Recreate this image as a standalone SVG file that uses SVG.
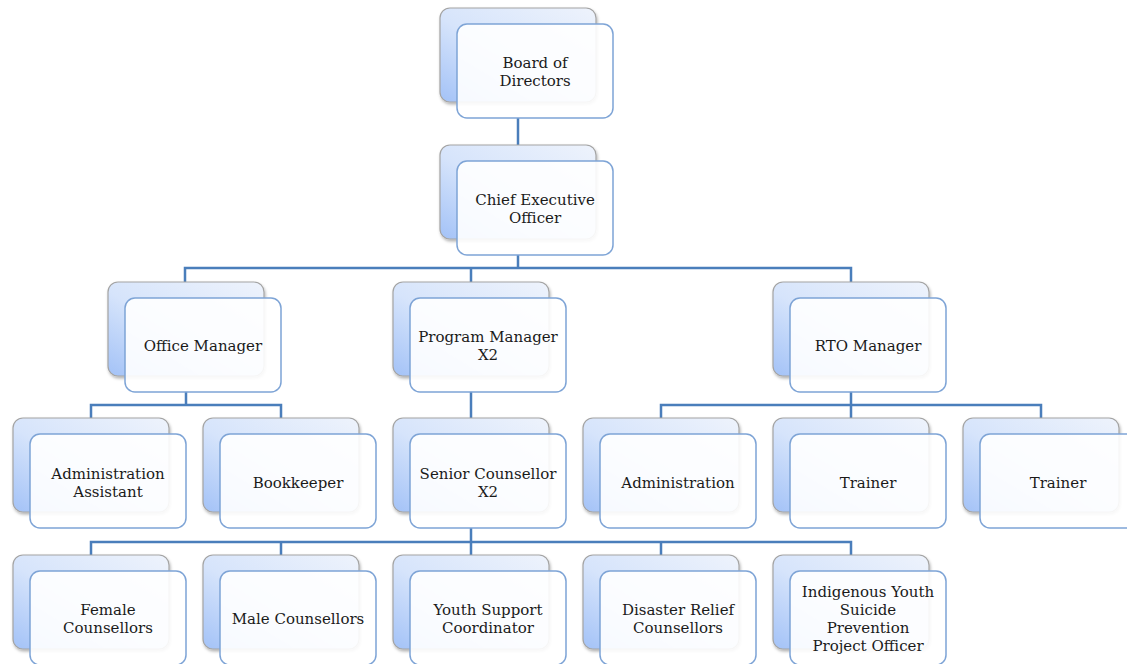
<svg xmlns="http://www.w3.org/2000/svg" width="1127" height="664" viewBox="0 0 1127 664">
<defs>
<linearGradient id="bg" x1="1" y1="0" x2="0" y2="1">
<stop offset="0" stop-color="#eef3fc"/>
<stop offset="0.55" stop-color="#d6e4fb"/>
<stop offset="1" stop-color="#a3c2f7"/>
</linearGradient>
<filter id="sh" x="-10%" y="-10%" width="125%" height="125%">
<feDropShadow dx="1" dy="2" stdDeviation="1.5" flood-color="#000" flood-opacity="0.3"/>
</filter>
</defs>
<style>
.back{fill:url(#bg);stroke:#a4a4a4;stroke-width:1.2;filter:url(#sh)}
.front{fill:#ffffff;fill-opacity:0.9;stroke:#7ea4d6;stroke-width:1.5}
.t{font-family:"DejaVu Serif","Liberation Serif",serif;font-size:15px;fill:#1a1a1a;text-anchor:middle}
.c{fill:none;stroke:#4a7ebb;stroke-width:2.5}
</style>
<rect width="1127" height="664" fill="#ffffff"/>
<g id="connectors">
<path class="c" d="M518 118V161"/>
<path class="c" d="M518 255V268M185 282V268H851V282M471 268V282"/>
<path class="c" d="M186 391V405M91 418V405H281V418"/>
<path class="c" d="M471 391V418"/>
<path class="c" d="M851 391V405M661 418V405H1041V418M851 405V418"/>
<path class="c" d="M471 528V542M91 555V542H851V555M281 542V555M471 542V555M661 542V555"/>
</g>
<g id="board">
<rect class="back" x="440" y="8" width="156" height="94" rx="10"/>
<rect class="front" x="457" y="24" width="156" height="94" rx="10"/>
<text class="t" x="535" y="68">Board of</text><text class="t" x="535" y="86">Directors</text>
</g>
<g id="ceo">
<rect class="back" x="440" y="145" width="156" height="94" rx="10"/>
<rect class="front" x="457" y="161" width="156" height="94" rx="10"/>
<text class="t" x="535" y="205">Chief Executive</text><text class="t" x="535" y="223">Officer</text>
</g>
<g id="office-manager">
<rect class="back" x="108" y="282" width="156" height="94" rx="10"/>
<rect class="front" x="125" y="298" width="156" height="94" rx="10"/>
<text class="t" x="203" y="351">Office Manager</text>
</g>
<g id="program-manager">
<rect class="back" x="393" y="282" width="156" height="94" rx="10"/>
<rect class="front" x="410" y="298" width="156" height="94" rx="10"/>
<text class="t" x="488" y="342">Program Manager</text><text class="t" x="488" y="360">X2</text>
</g>
<g id="rto-manager">
<rect class="back" x="773" y="282" width="156" height="94" rx="10"/>
<rect class="front" x="790" y="298" width="156" height="94" rx="10"/>
<text class="t" x="868" y="351">RTO Manager</text>
</g>
<g id="admin-assistant">
<rect class="back" x="13" y="418" width="156" height="94" rx="10"/>
<rect class="front" x="30" y="434" width="156" height="94" rx="10"/>
<text class="t" x="108" y="479">Administration</text><text class="t" x="108" y="497">Assistant</text>
</g>
<g id="bookkeeper">
<rect class="back" x="203" y="418" width="156" height="94" rx="10"/>
<rect class="front" x="220" y="434" width="156" height="94" rx="10"/>
<text class="t" x="298" y="488">Bookkeeper</text>
</g>
<g id="senior-counsellor">
<rect class="back" x="393" y="418" width="156" height="94" rx="10"/>
<rect class="front" x="410" y="434" width="156" height="94" rx="10"/>
<text class="t" x="488" y="479">Senior Counsellor</text><text class="t" x="488" y="497">X2</text>
</g>
<g id="administration">
<rect class="back" x="583" y="418" width="156" height="94" rx="10"/>
<rect class="front" x="600" y="434" width="156" height="94" rx="10"/>
<text class="t" x="678" y="488">Administration</text>
</g>
<g id="trainer-1">
<rect class="back" x="773" y="418" width="156" height="94" rx="10"/>
<rect class="front" x="790" y="434" width="156" height="94" rx="10"/>
<text class="t" x="868" y="488">Trainer</text>
</g>
<g id="trainer-2">
<rect class="back" x="963" y="418" width="156" height="94" rx="10"/>
<rect class="front" x="980" y="434" width="156" height="94" rx="10"/>
<text class="t" x="1058" y="488">Trainer</text>
</g>
<g id="female-counsellors">
<rect class="back" x="13" y="555" width="156" height="94" rx="10"/>
<rect class="front" x="30" y="571" width="156" height="94" rx="10"/>
<text class="t" x="108" y="615">Female</text><text class="t" x="108" y="633">Counsellors</text>
</g>
<g id="male-counsellors">
<rect class="back" x="203" y="555" width="156" height="94" rx="10"/>
<rect class="front" x="220" y="571" width="156" height="94" rx="10"/>
<text class="t" x="298" y="624">Male Counsellors</text>
</g>
<g id="youth-support">
<rect class="back" x="393" y="555" width="156" height="94" rx="10"/>
<rect class="front" x="410" y="571" width="156" height="94" rx="10"/>
<text class="t" x="488" y="615">Youth Support</text><text class="t" x="488" y="633">Coordinator</text>
</g>
<g id="disaster-relief">
<rect class="back" x="583" y="555" width="156" height="94" rx="10"/>
<rect class="front" x="600" y="571" width="156" height="94" rx="10"/>
<text class="t" x="678" y="615">Disaster Relief</text><text class="t" x="678" y="633">Counsellors</text>
</g>
<g id="indigenous-youth">
<rect class="back" x="773" y="555" width="156" height="94" rx="10"/>
<rect class="front" x="790" y="571" width="156" height="94" rx="10"/>
<text class="t" x="868" y="597">Indigenous Youth</text><text class="t" x="868" y="615">Suicide</text><text class="t" x="868" y="633">Prevention</text><text class="t" x="868" y="651">Project Officer</text>
</g>
</svg>
